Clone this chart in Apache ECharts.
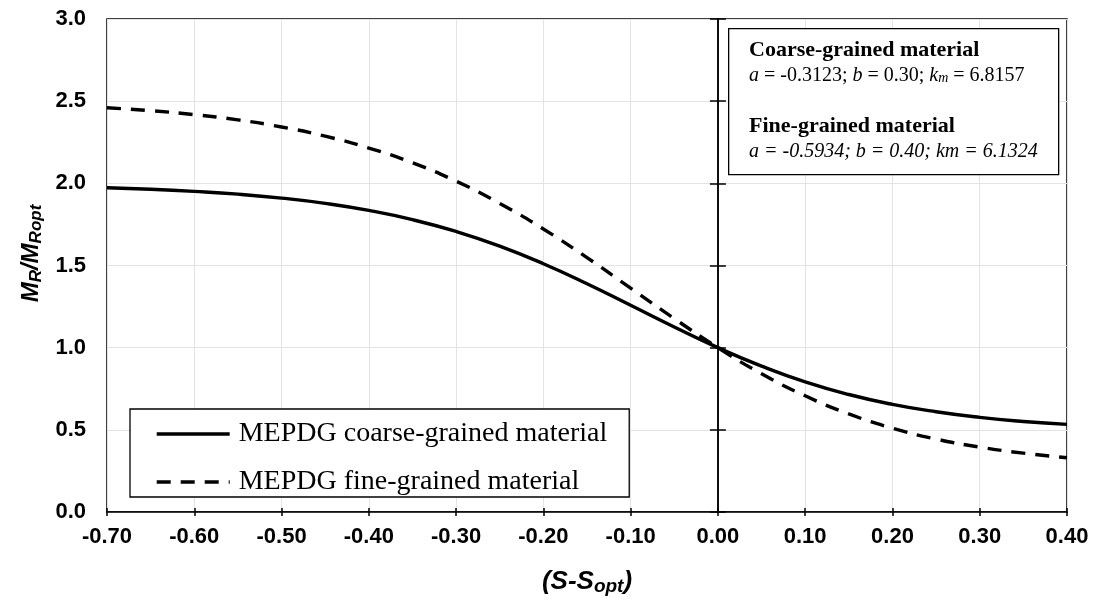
<!DOCTYPE html>
<html>
<head>
<meta charset="utf-8">
<script src="https://cdn.jsdelivr.net/npm/echarts@6/dist/echarts.min.js"></script>
<style>
html,body{margin:0;padding:0;background:#fff;}
#chart{width:1098px;height:601px;}
</style>
</head>
<body>
<div id="chart"></div>
<script>
// Data (S - Sopt vs MR/MRopt)
const xValues = [-0.70,-0.65,-0.60,-0.55,-0.50,-0.45,-0.40,-0.35,-0.30,-0.25,-0.20,-0.15,-0.10,-0.05,0.00,0.05,0.10,0.15,0.20,0.25,0.30,0.35,0.40];
const coarseValues = [1.973,1.964,1.951,1.934,1.910,1.878,1.835,1.779,1.707,1.618,1.511,1.389,1.258,1.126,1.000,0.888,0.792,0.715,0.655,0.610,0.576,0.551,0.533];
const fineValues = [2.460,2.442,2.418,2.386,2.343,2.287,2.215,2.125,2.013,1.878,1.722,1.548,1.362,1.177,1.000,0.841,0.707,0.597,0.510,0.444,0.395,0.358,0.330];
const seriesNames = ['MEPDG coarse-grained material','MEPDG fine-grained material'];
const xTickLabels = ['-0.70','-0.60','-0.50','-0.40','-0.30','-0.20','-0.10','0.00','0.10','0.20','0.30','0.40'];
const yTickLabels = ['0.0','0.5','1.0','1.5','2.0','2.5','3.0'];

const coarseData = xValues.map((x,i)=>[x,coarseValues[i]]);
const fineData = xValues.map((x,i)=>[x,fineValues[i]]);

const sans = 'Liberation Sans, Arial, sans-serif';
const serif = 'Liberation Serif, Times New Roman, serif';

const chart = echarts.init(document.getElementById('chart'), null, {renderer:'canvas'});
const xMin = -0.7, xMax = 0.4, yMin = 0, yMax = 3;
const gridLeft = 107, gridRight = 31;
const plotW = 1098 - gridLeft - gridRight;
const zeroOffset = -plotW * (0 - xMin) / (xMax - xMin);

function xFmt(v){ const s = v.toFixed(2); return s === '-0.00' ? '0.00' : s; }
function yFmt(v){ return v.toFixed(1); }

const option = {
  animation:false,
  backgroundColor:'#fff',
  grid:{left:gridLeft, right:gridRight, top:19, bottom:87, show:true, borderColor:'#000', borderWidth:1.5, backgroundColor:'transparent'},
  legend:{
    data:seriesNames,
    orient:'vertical',
    left:130, top:409,
    borderColor:'#000', borderWidth:1.3,
    padding:[11,22,1,25],
    itemGap:20,
    itemWidth:73, itemHeight:14,
    backgroundColor:'#fff',
    itemStyle:{color:'transparent', borderColor:'transparent', borderWidth:0, opacity:0},
    lineStyle:{width:3.4, color:'#000'},
    textStyle:{fontFamily:serif, fontSize:28, color:'#000', padding:[0,0,0,4]}
  },
  xAxis:[{
    type:'value', min:xMin, max:xMax, interval:0.1,
    name:'{p|(S-S}{s|opt}{p|)}', nameLocation:'middle', nameGap:55,
    nameTextStyle:{rich:{
      p:{fontFamily:sans, fontSize:26, fontWeight:'bold', fontStyle:'italic', color:'#000'},
      s:{fontFamily:sans, fontSize:19, fontWeight:'bold', fontStyle:'italic', color:'#000', padding:[10,0,0,0]}
    }},
    axisLine:{show:true, lineStyle:{color:'#000', width:1.5}},
    axisTick:{show:true, length:4, lineStyle:{color:'#000', width:1.5}},
    axisLabel:{fontFamily:sans, fontSize:22, fontWeight:'bold', color:'#000', margin:14, formatter:xFmt},
    splitLine:{show:true, lineStyle:{color:'#e3e3e3', width:1}}
  },{
    type:'value', min:xMin, max:xMax, interval:0.1, position:'bottom',
    axisLine:{show:false},
    axisTick:{show:true, inside:true, length:4, lineStyle:{color:'#000', width:1.5}},
    axisLabel:{show:false},
    splitLine:{show:false}
  }],
  yAxis:[{
    type:'value', min:yMin, max:yMax, interval:0.5,
    name:'{m|M}{s|R}{m|/M}{s|Ropt}', nameLocation:'middle', nameGap:62,
    nameTextStyle:{padding:[0,0,0,24], rich:{
      m:{fontFamily:sans, fontSize:24, fontWeight:'bold', fontStyle:'italic', color:'#000'},
      s:{fontFamily:sans, fontSize:17, fontWeight:'bold', fontStyle:'italic', color:'#000', padding:[9,0,0,0]}
    }},
    axisLine:{show:true, lineStyle:{color:'#000', width:1.5}},
    axisTick:{show:false},
    axisLabel:{fontFamily:sans, fontSize:22, fontWeight:'bold', color:'#000', margin:21, formatter:yFmt},
    splitLine:{show:true, lineStyle:{color:'#e3e3e3', width:1}}
  },{
    type:'value', min:yMin, max:yMax, interval:0.5, position:'left', offset:zeroOffset,
    axisLine:{show:true, onZero:false, lineStyle:{color:'#000', width:1.5}},
    axisTick:{show:true, length:8, lineStyle:{color:'#000', width:1.5}},
    axisLabel:{show:false}, splitLine:{show:false}
  },{
    type:'value', min:yMin, max:yMax, interval:0.5, position:'left', offset:zeroOffset,
    axisLine:{show:false},
    axisTick:{show:true, inside:true, length:8, lineStyle:{color:'#000', width:1.5}},
    axisLabel:{show:false}, splitLine:{show:false}
  }],
  series:[{
    name:seriesNames[0], type:'line', data:coarseData, smooth:true, symbol:'none',
    xAxisIndex:0, yAxisIndex:0,
    lineStyle:{color:'#000', width:3.4, type:'solid'}, itemStyle:{color:'#000'}, z:3
  },{
    name:seriesNames[1], type:'line', data:fineData, smooth:true, symbol:'none',
    xAxisIndex:0, yAxisIndex:0,
    lineStyle:{color:'#000', width:3.4, type:[14,10]}, itemStyle:{color:'#000'}, z:3
  }],
  graphic:[{
    type:'rect', left:728, top:28, z:10,
    shape:{width:330, height:146},
    style:{fill:'#fff', stroke:'#000', lineWidth:1.3}
  },{
    type:'text', left:749, top:39, z:11,
    style:{text:'Coarse-grained material', font:'bold 22px ' + serif, fill:'#000'}
  },{
    type:'text', left:749, top:66, z:11,
    style:{
      text:'{i|a}{r| = -0.3123; }{i|b}{r| = 0.30; }{i|k}{ks|m}{r| = 6.8157}',
      rich:{
        r:{fontFamily:serif, fontSize:20, color:'#000'},
        i:{fontFamily:serif, fontSize:20, fontStyle:'italic', color:'#000'},
        ks:{fontFamily:serif, fontSize:14, fontStyle:'italic', color:'#000', padding:[5,0,0,0]}
      }
    }
  },{
    type:'text', left:749, top:115, z:11,
    style:{text:'Fine-grained material', font:'bold 22px ' + serif, fill:'#000'}
  },{
    type:'text', left:749, top:142, z:11,
    style:{text:'a = -0.5934; b = 0.40; km = 6.1324', font:'italic 20px ' + serif, fill:'#000'}
  }]
};
chart.setOption(option);
</script>
</body>
</html>
